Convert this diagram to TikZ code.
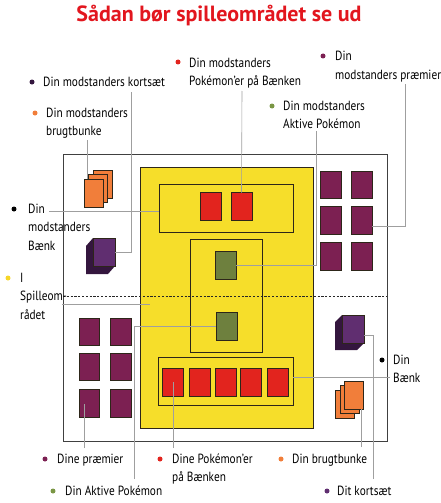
\documentclass[tikz,border=0pt]{standalone}
\usepackage{fontspec}
\setmainfont[FakeStretch=0.85]{PT Sans}
\newfontfamily\titlefont{PT Sans}
\usetikzlibrary{calc}
\definecolor{ttlred}{RGB}{226,22,30}
\definecolor{cardred}{RGB}{226,36,30}
\definecolor{yard}{RGB}{246,222,42}
\definecolor{actgrn}{RGB}{110,128,62}
\definecolor{przpur}{RGB}{124,32,82}
\definecolor{deckpur}{RGB}{96,46,112}
\definecolor{deckdark}{RGB}{52,22,62}
\definecolor{discorg}{RGB}{241,126,58}
\definecolor{dotyel}{RGB}{246,214,40}
\definecolor{dotgrn}{RGB}{122,150,68}
\definecolor{edge}{RGB}{45,38,25}
\tikzset{
  card/.style={draw=edge, line width=0.9pt, minimum width=21pt, minimum height=28pt, inner sep=0pt, outer sep=0pt},
  redc/.style={card, fill=cardred},
  grnc/.style={card, fill=actgrn},
  przc/.style={card, fill=przpur, minimum width=20.5pt, minimum height=27.5pt},
  orgc/.style={card, fill=discorg, minimum width=19pt, minimum height=28pt, line width=0.7pt},
  deckc/.style={card, fill=deckpur, minimum width=22pt, minimum height=28pt, line width=0.6pt},
  zone/.style={draw=edge, line width=0.8pt, inner sep=0pt, outer sep=0pt, anchor=north west},
  lab/.style={font=\fontsize{13.3}{18.5}\selectfont, align=left, anchor=base west, inner sep=0pt},
  bul/.style={circle, inner sep=0pt, minimum size=5pt},
  con/.style={gray!75, line width=0.6pt},
  midln/.style={black!85, line width=1pt, dash pattern=on 2.2pt off 1.6pt},
  ttl/.style={font=\titlefont\bfseries\fontsize{22}{26}\selectfont, text=ttlred},
}
\begin{document}
\begin{tikzpicture}[x=1pt, y=-1pt]
  \useasboundingbox (0,0) rectangle (440,503);
  \node[ttl] (title) at (219,16) {Sådan bør spilleområdet se ud};

  % the play field
  \node[zone, draw=black!75, line width=1pt, minimum width=324pt, minimum height=287pt] (field) at (63,154) {};
  \node[zone, fill=yard, minimum width=173pt, minimum height=261pt] (yardz) at (140,167) {};
  \node[zone, minimum width=134pt, minimum height=48pt] (oBench) at (159,184) {};
  \node[zone, minimum width=72pt, minimum height=113pt] (actz) at (190,239) {};
  \node[zone, minimum width=135pt, minimum height=48pt] (mBench) at (158,357) {};
  \draw[midln] (63,296) -- (387,296);

  % opponent side
  \node[redc] (oB1) at (210.5,206.5) {};
  \node[redc] (oB2) at (241.5,206.5) {};
  \node[grnc] (oAct) at (225.5,265) {};
  \foreach \r/\y in {1/185,2/220.5,3/256.5}
    \foreach \c/\x in {1/331,2/362}
      \node[przc] (oP\r\c) at (\x,\y) {};
  \node[orgc] (oDiscC) at (102.5,184) {};
  \node[orgc] (oDiscB) at (98,188.5) {};
  \node[orgc] (oDiscA) at (93.5,193) {};
  \fill[deckdark] (93,238) -- (86,246) -- (86,274) -- (108,274) -- (115,266) -- (115,238) -- cycle;
  \node[deckc] (oDeck) at (104,252) {};

  % my side
  \node[grnc] (mAct) at (226.5,326) {};
  \foreach \i/\x in {1/173,2/199.5,3/225.5,4/251,5/277.5}
    \node[redc] (mB\i) at (\x,382) {};
  \foreach \r/\y in {1/332,2/367,3/403.5}
    \foreach \c/\x in {1/89.5,2/121}
      \node[przc] (mP\r\c) at (\x,\y) {};
  \node[orgc] (mDiscA) at (345,404) {};
  \node[orgc] (mDiscB) at (349.5,399.5) {};
  \node[orgc] (mDiscC) at (354,395) {};
  \fill[deckdark] (342,315) -- (335,322) -- (335,350) -- (357,350) -- (364,343) -- (364,315) -- cycle;
  \node[deckc] (mDeck) at (353,329) {};

  % labels (base = last line)
  \node[bul, fill=deckdark] (dOKort) at (32,82) {};
  \node[lab] (lOKort) at (43,86) {Din modstanders kortsæt};
  \node[bul, fill=discorg] (dOBrug) at (35,113) {};
  \node[lab] (lOBrug) at (46,135.5) {Din modstanders\\brugtbunke};
  \node[bul, fill=cardred] (dOPok) at (178,62) {};
  \node[lab] (lOPok) at (189,85.5) {Din modstanders\\Pokémon'er på Bænken};
  \node[bul, fill=przpur] (dOPr) at (323,56) {};
  \node[lab] (lOPr) at (335,79.5) {Din\\modstanders præmier};
  \node[bul, fill=dotgrn] (dOAkt) at (272,106) {};
  \node[lab] (lOAkt) at (283,128.5) {Din modstanders\\Aktive Pokémon};
  \node[bul, fill=black] (dOBank) at (14,209) {};
  \node[lab] (lOBank) at (28,250) {Din\\modstanders\\Bænk};
  \node[bul, fill=dotyel] (dSpil) at (8,278) {};
  \node[lab] (lSpil) at (20,319) {I\\Spilleom-\\rådet};
  \node[bul, fill=black] (dBank) at (382,360) {};
  \node[lab] (lBank) at (393,382.5) {Din\\Bænk};
  \node[bul, fill=przpur] (dPr) at (45,459) {};
  \node[lab] (lPr) at (57,463) {Dine præmier};
  \node[bul, fill=cardred] (dPok) at (160,459) {};
  \node[lab] (lPok) at (172,481.5) {Dine Pokémon'er\\på Bænken};
  \node[bul, fill=discorg] (dBrug) at (281,459) {};
  \node[lab] (lBrug) at (292,463) {Din brugtbunke};
  \node[bul, fill=dotgrn] (dAkt) at (53,491) {};
  \node[lab] (lAkt) at (65,495) {Din Aktive Pokémon};
  \node[bul, fill=deckpur] (dKort) at (327,491) {};
  \node[lab] (lKort) at (337,495) {Dit kortsæt};

  % leader lines
  \coordinate (kOKort) at (131,92);
  \coordinate (kOBrug) at (87,140);
  \coordinate (kOPok) at (242,91);
  \coordinate (kOAkt) at (316,131);
  \coordinate (kOPr) at (405,84);
  \coordinate (kOBank) at (49,211);
  \coordinate (kSpil) at (62,304);
  \coordinate (kSpilE) at (150,304);
  \coordinate (kBank) at (390,377);
  \coordinate (kPr) at (84,448);
  \coordinate (kPok) at (173,448);
  \coordinate (kBrug) at (361,447);
  \coordinate (kAkt) at (134,479);
  \coordinate (kKort) at (373,479);
  \draw[con] (kOKort) |- (oDeck.east);
  \draw[con] (kOBrug) -- (kOBrug |- oDiscA.north);
  \draw[con] (kOPok) -- (oB2.north);
  \draw[con] (kOAkt) |- (oAct.east);
  \draw[con] (kOPr) |- ($(oP22.east)+(0,6)$);
  \draw[con] (kOBank) -- (kOBank -| oBench.west);
  \draw[con] (kSpil) -- (kSpilE);
  \draw[con] (mBench.east |- kBank) -- (kBank);
  \draw[con] (kPr) -- (kPr |- mP31.center);
  \draw[con] (kPok) -- (mB1.center);
  \draw[con] (kBrug) -- (kBrug |- mDiscC.south);
  \draw[con] (kAkt) |- (mAct.west);
  \draw[con] (kKort) |- ($(mDeck.east)+(0,6)$);
\end{tikzpicture}
\end{document}
